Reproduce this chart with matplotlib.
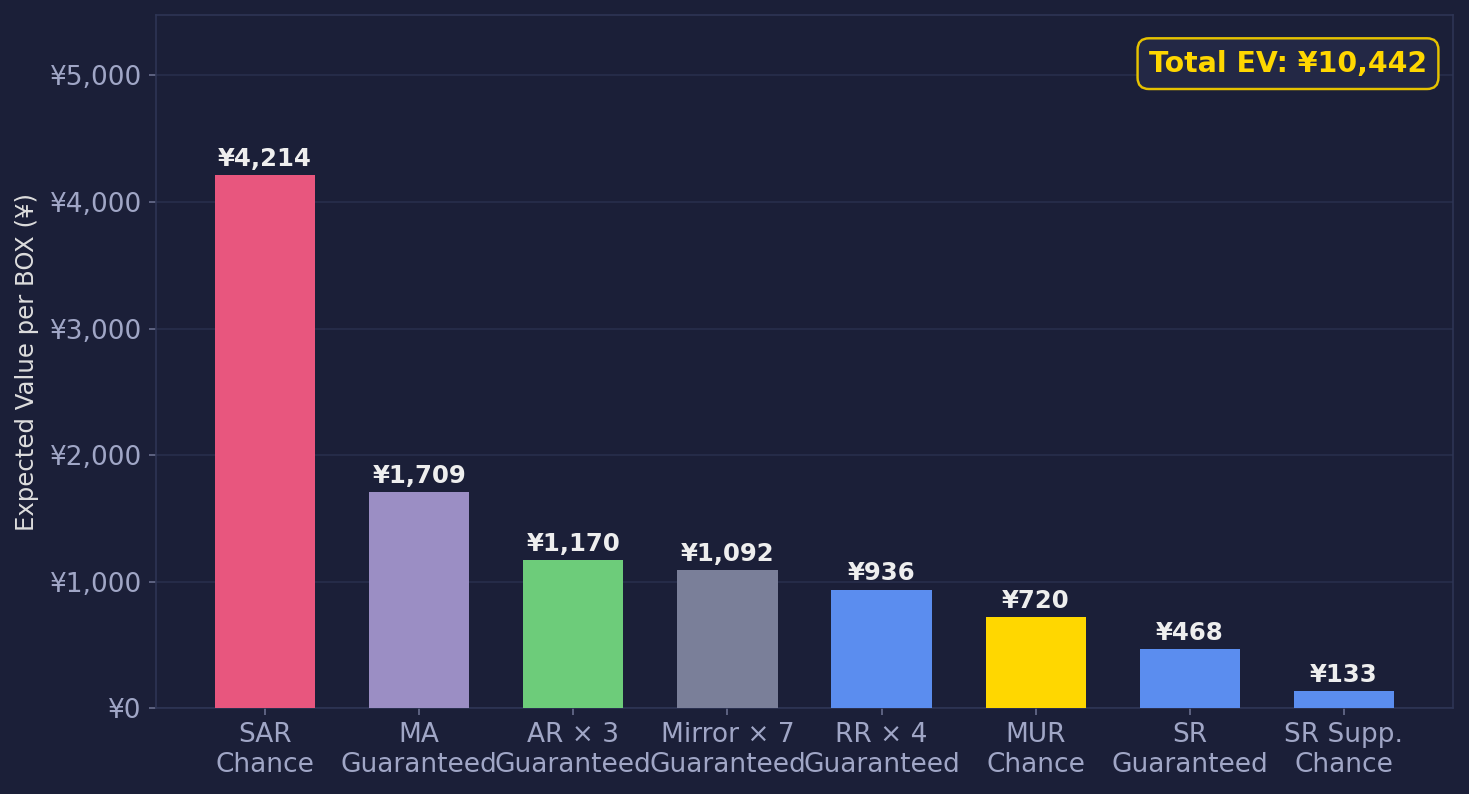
import matplotlib
matplotlib.use("Agg")
import matplotlib.pyplot as plt
from matplotlib.ticker import FuncFormatter

categories = ["SAR\nChance", "MA\nGuaranteed", "AR × 3\nGuaranteed", "Mirror × 7\nGuaranteed",
              "RR × 4\nGuaranteed", "MUR\nChance", "SR\nGuaranteed", "SR Supp.\nChance"]
values = [4214, 1709, 1170, 1092, 936, 720, 468, 133]
colors = ["#e8567e", "#9b8ec4", "#6dcc7a", "#7a7f99", "#5b8def", "#ffd700", "#5b8def", "#5b8def"]
total_ev = 10442

bg = "#1b1f38"
fig = plt.figure(figsize=(1469 / 146, 794 / 146), dpi=146, facecolor=bg)
ax = fig.add_axes([0.1062, 0.1083, 0.8829, 0.8728])
ax.set_facecolor(bg)

x = range(len(categories))
bars = ax.bar(x, values, width=0.65, color=colors, zorder=3)

for i, v in enumerate(values):
    ax.text(i, v + max(values) * 0.008, "¥{:,}".format(v), ha="center", va="bottom",
            fontsize=12, fontweight="bold", color="#eeeeee", zorder=4)

ax.set_ylim(0, max(values) * 1.3)
ax.set_xticks(list(x))
ax.set_xticklabels(categories)
ax.yaxis.set_major_formatter(FuncFormatter(lambda v, p: "¥{:,.0f}".format(v)))
ax.tick_params(axis="both", colors="#6a7090", labelcolor="#a0a6c6", labelsize=13)
ax.set_ylabel("Expected Value per BOX (¥)", fontsize=12, color="#dddddd", labelpad=5)

ax.grid(axis="y", color="#252b48", linewidth=1, zorder=0)
for s in ax.spines.values():
    s.set_color("#2e3555")

ax.text(0.98, 0.95, "Total EV: ¥{:,}".format(total_ev), transform=ax.transAxes,
        ha="right", va="top", fontsize=14, fontweight="bold", color="#ffd700",
        bbox=dict(boxstyle="round,pad=0.4", facecolor="#232845", edgecolor="#e6c200", linewidth=1.2),
        zorder=5)

fig.savefig("out.png", dpi=146, facecolor=bg)
